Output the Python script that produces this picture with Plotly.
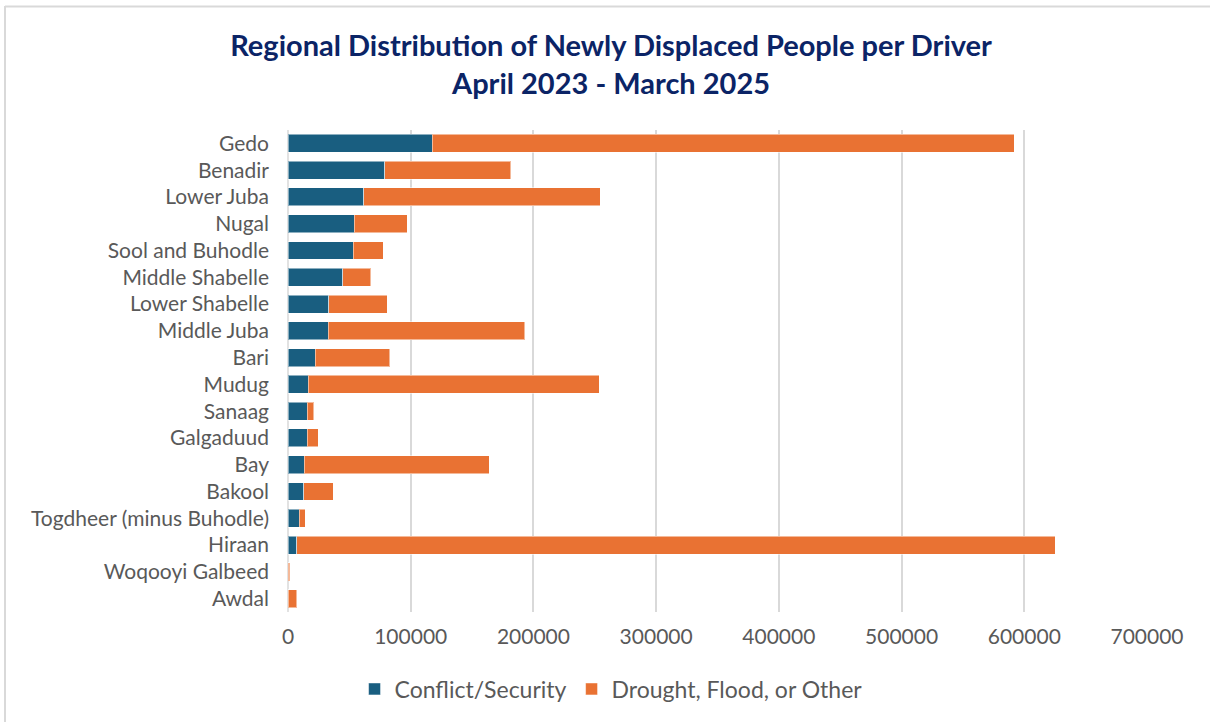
import plotly.graph_objects as go

regions = ["Gedo", "Benadir", "Lower Juba", "Nugal", "Sool and Buhodle", "Middle Shabelle",
           "Lower Shabelle", "Middle Juba", "Bari", "Mudug", "Sanaag", "Galgaduud", "Bay",
           "Bakool", "Togdheer (minus Buhodle)", "Hiraan", "Woqooyi Galbeed", "Awdal"]
conflict = [117400, 78800, 61900, 53800, 53000, 44800, 33100, 32600, 22000, 16300,
            15500, 15500, 13300, 13000, 9000, 7300, 300, 200]
other = [474600, 102700, 192600, 43200, 24700, 22600, 47900, 160300, 61100, 237400,
         5400, 9200, 150500, 23700, 5100, 617800, 1100, 6900]
tick_vals = [0, 100000, 200000, 300000, 400000, 500000, 600000, 700000]
tick_text = ["0", "100000", "200000", "300000", "400000", "500000", "600000", "700000"]

W, H = 1210, 722
L, R, T, B = 288, 63, 130, 110
pw, ph = W - L - R, H - T - B

fig = go.Figure()
fig.add_trace(go.Bar(y=regions, x=conflict, orientation="h", name="Conflict/Security",
                     marker=dict(color="#195E80", line=dict(color="rgba(255,255,255,0.5)", width=1))))
fig.add_trace(go.Bar(y=regions, x=other, orientation="h", name="Drought, Flood, or Other",
                     marker=dict(color="#E97233", line=dict(color="rgba(255,255,255,0.5)", width=1))))

def px_x(p):
    return (p - L) / pw

def px_y(p):
    return (H - B - p) / ph

fig.update_layout(
    width=W, height=H,
    barmode="stack", bargap=0.33,
    margin=dict(l=L, r=R, t=T, b=B),
    paper_bgcolor="white", plot_bgcolor="white",
    font=dict(family="Lato, Open Sans, sans-serif", color="#595959", size=20),
    title=dict(text="<b>Regional Distribution of Newly Displaced People per Driver<br>April 2023 - March 2025</b>",
               x=0.505, xanchor="center", y=1 - 56 / H, yanchor="middle",
               font=dict(family="Lato, Open Sans, sans-serif", size=29, color="#0B2466")),
    xaxis=dict(range=[0, 700000], tickvals=tick_vals, ticktext=tick_text,
               showgrid=True, gridcolor="#D9D9D9", gridwidth=1.5, zeroline=False,
               showline=False, ticks="", ticklabelstandoff=10,
               tickfont=dict(size=21, color="#595959")),
    yaxis=dict(categoryorder="array", categoryarray=regions[::-1], autorange=True,
               showgrid=False, zeroline=False, showline=False, ticks="", ticklabelstandoff=18,
               tickfont=dict(size=21, color="#595959")),
    legend=dict(orientation="h", x=0.505, xanchor="center", xref="container",
                y=1 - 689 / H, yref="container", yanchor="middle",
                font=dict(size=23, color="#595959"), traceorder="normal"),
    showlegend=True,
    shapes=[
        dict(type="line", xref="paper", yref="paper", x0=0, x1=0, y0=0, y1=1,
             line=dict(color="#D9D9D9", width=1.5), layer="below"),
        dict(type="line", xref="paper", yref="paper", x0=px_x(5), x1=px_x(5), y0=px_y(6), y1=px_y(722),
             line=dict(color="#D9D9D9", width=2)),
        dict(type="line", xref="paper", yref="paper", x0=px_x(5), x1=px_x(1210), y0=px_y(6.5), y1=px_y(6.5),
             line=dict(color="#D9D9D9", width=2)),
    ],
)

fig.write_html("out.html")
